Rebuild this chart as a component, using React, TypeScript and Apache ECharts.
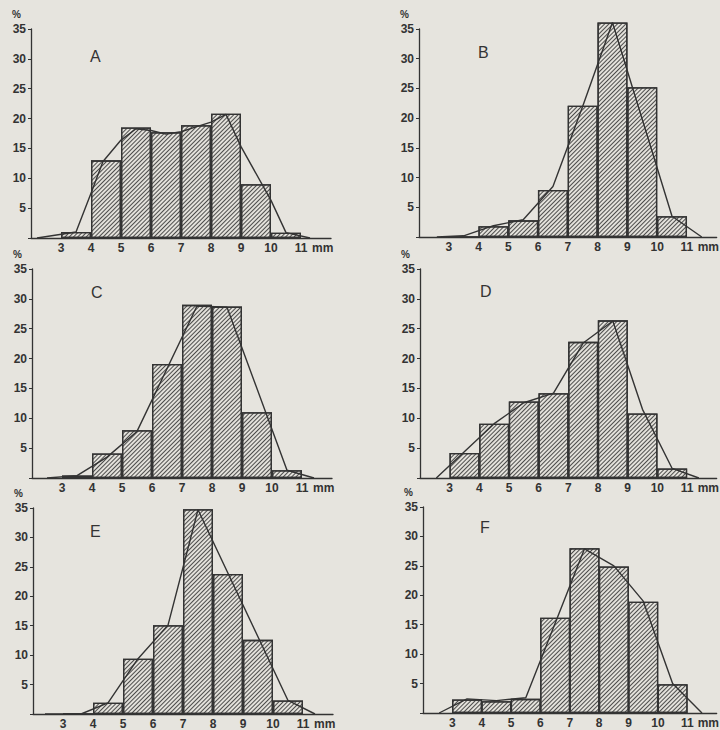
import React, { useEffect, useRef } from 'react';
import * as echarts from 'echarts';

// ---- data ----
const panelNames = ['A', 'B', 'C', 'D', 'E', 'F'];
const classMids = [3.5, 4.5, 5.5, 6.5, 7.5, 8.5, 9.5, 10.5];
const xTickLabels = [3, 4, 5, 6, 7, 8, 9, 10, 11];
const yTickLabels = [5, 10, 15, 20, 25, 30, 35];

const barsA = [1.0, 13.0, 18.5, 17.7, 18.9, 20.8, 9.0, 0.9];
const barsB = [0, 1.8, 2.8, 7.9, 22.1, 36.1, 25.2, 3.5];
const barsC = [0.4, 4.1, 8.0, 19.1, 29.0, 28.7, 11.0, 1.3];
const barsD = [4.2, 9.1, 12.8, 14.2, 22.8, 26.4, 10.8, 1.6];
const barsE = [0, 1.9, 9.4, 15.1, 34.8, 23.8, 12.6, 2.3];
const barsF = [2.3, 2.0, 2.4, 16.2, 28.0, 24.9, 18.9, 4.9];

const lineA = [[2.2, 0], [3.5, 1], [4.0, 7.5], [4.4, 12.8], [5.0, 16.4], [5.5, 18.3], [6.0, 18.0], [6.5, 17.4], [7.0, 17.8], [7.5, 18.6], [8.0, 19.4], [8.5, 20.7], [9.0, 15.3], [10.0, 6.3], [10.5, 0.9], [11.3, 0]];
const lineB = [[2.6, 0], [3.5, 0.2], [4.5, 1.9], [5.5, 2.9], [6.5, 8.5], [7.5, 22.0], [8.5, 36.1], [10.5, 3.5], [11.5, 0]];
const lineC = [[2.5, 0], [3.5, 0.4], [4.5, 3.5], [5.5, 7.8], [7.5, 28.8], [8.5, 28.6], [10.5, 1.3], [11.4, 0]];
const lineD = [[2.55, 0], [4.5, 9.1], [5.5, 12.6], [6.5, 14.2], [7.5, 22.6], [8.5, 26.3], [9.5, 11.5], [10.5, 1.6], [11.4, 0]];
const lineE = [[2.4, 0], [3.6, 0], [4.5, 1.9], [5.5, 9.4], [6.5, 15.1], [7.5, 34.7], [10.5, 2.3], [11.4, 0]];
const lineF = [[2.55, 0], [3.5, 2.4], [4.5, 2.1], [5.5, 2.6], [7.5, 27.9], [8.5, 25.0], [9.5, 19.0], [10.5, 5.0], [11.5, 0]];

const allBars = [barsA, barsB, barsC, barsD, barsE, barsF];
const allLines = [lineA, lineB, lineC, lineD, lineE, lineF];

// ---- layout ----
const grids = [
  { left: 31, top: 29, width: 300, height: 209 },
  { left: 419, top: 29, width: 300, height: 208 },
  { left: 32, top: 269, width: 300, height: 209 },
  { left: 420, top: 269, width: 300, height: 209 },
  { left: 33, top: 508, width: 300, height: 206 },
  { left: 423, top: 507, width: 300, height: 206 },
];
const letterPos = [
  { left: 90, top: 48 },
  { left: 478, top: 44 },
  { left: 91, top: 284 },
  { left: 480, top: 283 },
  { left: 90, top: 523 },
  { left: 480, top: 519 },
];

const INK = '#333333';
const BG = '#e6e4de';
const FONT = 'Liberation Sans, Arial, sans-serif';

export default function App() {
  const ref = useRef<HTMLDivElement>(null);
  useEffect(() => {
    if (!ref.current) return;
    const chart = echarts.init(ref.current, undefined, { renderer: 'svg' });
    const option: any = {
      animation: false,
      backgroundColor: BG,
      title: panelNames.map((n, i) => ({
        text: n,
        left: letterPos[i].left,
        top: letterPos[i].top,
        padding: 0,
        textStyle: { fontSize: 16, fontWeight: 'normal', color: INK, fontFamily: FONT },
      })),
      grid: grids.map((g) => ({ ...g, containLabel: false })),
      xAxis: grids.map((_, i) => ({
        type: 'value',
        gridIndex: i,
        min: 2,
        max: 12,
        interval: 1,
        name: 'mm',
        nameLocation: 'end',
        nameGap: -19,
        nameTextStyle: { color: INK, fontSize: 12, fontWeight: 'bold', fontFamily: FONT, verticalAlign: 'top', padding: [4, 0, 0, 0] },
        axisLine: { show: true, lineStyle: { color: INK, width: 1.3 } },
        axisTick: { show: false },
        splitLine: { show: false },
        axisLabel: {
          color: INK,
          fontSize: 12,
          fontWeight: 'bold',
          fontFamily: FONT,
          margin: 4,
          formatter: (v: number) => (xTickLabels.includes(v) ? String(v) : ''),
        },
      })),
      yAxis: grids.map((_, i) => ({
        type: 'value',
        gridIndex: i,
        min: 0,
        max: 35,
        interval: 5,
        name: '%',
        nameLocation: 'end',
        nameGap: 10,
        nameTextStyle: { color: INK, fontSize: 10, fontWeight: 'bold', fontFamily: FONT, align: 'right', padding: [0, 10, 0, 0] },
        axisLine: { show: true, lineStyle: { color: INK, width: 1.3 } },
        axisTick: { show: true, length: 3, lineStyle: { color: INK, width: 1 } },
        splitLine: { show: false },
        axisLabel: {
          color: INK,
          fontSize: 12,
          fontWeight: 'bold',
          fontFamily: FONT,
          margin: 5,
          formatter: (v: number) => (yTickLabels.includes(v) ? String(v) : ''),
        },
      })),
      series: [
        ...allBars.map((vals, i) => ({
          type: 'bar',
          xAxisIndex: i,
          yAxisIndex: i,
          barWidth: 30,
          clip: false,
          data: classMids.map((m, k) => [m, vals[k]]),
          itemStyle: {
            color: '#e3e1db',
            borderColor: INK,
            borderWidth: 1.3,
            decal: {
              symbol: 'rect',
              symbolSize: 1,
              color: 'rgba(50,50,50,0.85)',
              dashArrayX: [1, 0],
              dashArrayY: [1, 2],
              rotation: -Math.PI / 4,
            },
          },
          z: 2,
        })),
        ...allLines.map((pts, i) => ({
          type: 'line',
          xAxisIndex: i,
          yAxisIndex: i,
          data: pts,
          showSymbol: false,
          clip: false,
          lineStyle: { color: INK, width: 1.4 },
          z: 3,
        })),
      ],
    };
    chart.setOption(option);
    return () => chart.dispose();
  }, []);
  return <div ref={ref} style={{ position: 'fixed', left: 0, top: 0, width: 720, height: 730 }} />;
}
